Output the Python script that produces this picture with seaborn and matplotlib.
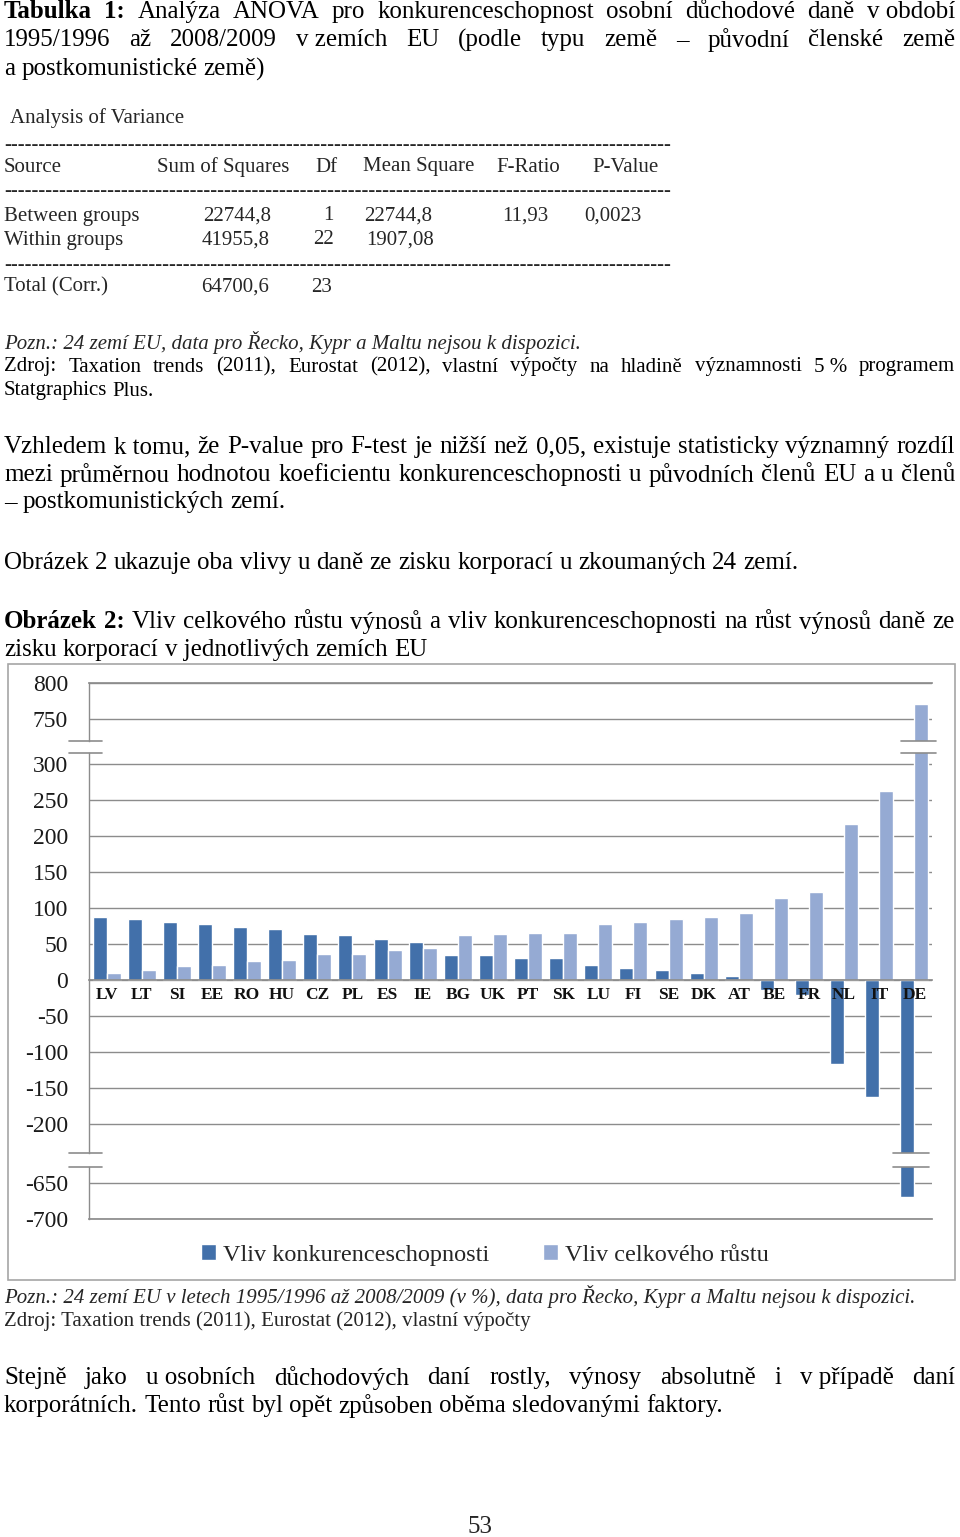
import pandas as pd
import seaborn as sns
import matplotlib.pyplot as plt
from matplotlib.patches import Rectangle
from matplotlib.transforms import blended_transform_factory

# data (percent)
countries = ['LV', 'LT', 'SI', 'EE', 'RO', 'HU', 'CZ', 'PL', 'ES', 'IE', 'BG', 'UK',
             'PT', 'SK', 'LU', 'FI', 'SE', 'DK', 'AT', 'BE', 'FR', 'NL', 'IT', 'DE']
konkurence = [87, 85, 80, 78, 73, 71, 64, 62, 57, 53, 35, 35,
              31, 31, 21, 17, 14, 10, 6, -14, -21, -116, -162, -669]
celkovy = [10, 14, 20, 21, 26, 28, 36, 36, 42, 45, 62, 64,
           65, 65, 78, 81, 85, 87, 93, 114, 122, 217, 263, 771]
series_names = ['Vliv konkurenceschopnosti', 'Vliv celkového růstu']

W, H = 960, 1537
DARK = '#4270AA'
LIGHT = '#95AAD3'
GRID = '#8C8C8C'
BODY = 18
TS = 15


def fx(x):
    return x / W


def fy(y):
    return 1 - y / H


def rect(x0, y0, x1, y1):
    return [fx(x0), fy(y1), (x1 - x0) / W, (y1 - y0) / H]


sns.set_theme(style='white')
plt.rcParams['font.family'] = ['Liberation Serif', 'DejaVu Serif']
plt.rcParams['axes.unicode_minus'] = False

fig = plt.figure(figsize=(9.6, 15.37), dpi=100)
renderer = fig.canvas.get_renderer()


def put_line(parts, y, x0=4, x1=None, size=BODY, style='normal'):
    texts = [fig.text(fx(x0), fy(y), w, fontsize=size, fontweight=wt,
                      fontstyle=style, va='center', ha='left', color='black')
             for w, wt in parts]
    widths = [t.get_window_extent(renderer).width for t in texts]
    if x1 is None or len(texts) == 1:
        gap = size * 100 / 72 * 0.25
    else:
        gap = (x1 - x0 - sum(widths)) / (len(texts) - 1)
    x = x0
    for t, w in zip(texts, widths):
        t.set_x(fx(x))
        x += w + gap


def words(s, wt='normal'):
    return [(w.replace('~', ' '), wt) for w in s.split()]


# heading and ANOVA table
put_line(words('Tabulka 1:', 'bold')
         + words('Analýza ANOVA pro konkurenceschopnost osobní důchodové daně v~období'),
         12, x1=955)
put_line(words('1995/1996 až 2008/2009 v~zemích EU (podle typu země – původní členské země'),
         40, x1=955)
put_line(words('a postkomunistické země)'), 69)

fig.text(fx(10), fy(118), 'Analysis of Variance', fontsize=TS, va='center')
for yy in [145, 192, 266]:
    fig.text(fx(4), fy(yy), '-' * 97, fontsize=TS, va='center')
header = [('Source', 4), ('Sum of Squares', 157), ('Df', 315), ('Mean Square', 363),
          ('F-Ratio', 496), ('P-Value', 592)]
for s, x in header:
    fig.text(fx(x), fy(167), s, fontsize=TS, va='center')
rows = [
    (216, [('Between groups', 4), ('22744,8', 203), ('1', 323), ('22744,8', 364),
           ('11,93', 502), ('0,0023', 584)]),
    (240, [('Within groups', 4), ('41955,8', 202), ('22', 313), ('1907,08', 366)]),
    (287, [('Total (Corr.)', 4), ('64700,6', 201), ('23', 311)]),
]
for yy, cells in rows:
    for s, x in cells:
        fig.text(fx(x), fy(yy), s, fontsize=TS, va='center')

fig.text(fx(4), fy(343), 'Pozn.: 24 zemí EU, data pro Řecko, Kypr a Maltu nejsou k dispozici.',
         fontsize=TS, fontstyle='italic', va='center')
put_line(words('Zdroj: Taxation trends (2011), Eurostat (2012), vlastní výpočty na hladině '
               'významnosti 5~% programem'), 367, x1=955, size=TS)
put_line(words('Statgraphics Plus.'), 391, size=TS)

put_line(words('Vzhledem k~tomu, že P-value pro F-test je nižší než 0,05, existuje statisticky '
               'významný rozdíl'), 447, x1=955)
put_line(words('mezi průměrnou hodnotou koeficientu konkurenceschopnosti u původních členů EU '
               'a u členů'), 475, x1=955)
put_line(words('– postkomunistických zemí.'), 502)
put_line(words('Obrázek 2 ukazuje oba vlivy u daně ze zisku korporací u zkoumaných 24 zemí.'), 563)
put_line(words('Obrázek 2:', 'bold')
         + words('Vliv celkového růstu výnosů a vliv konkurenceschopnosti na růst výnosů daně ze'),
         622, x1=955)
put_line(words('zisku korporací v~jednotlivých zemích EU'), 650)

# chart
df = pd.DataFrame({
    'stat': countries * 2,
    'hodnota': konkurence + celkovy,
    'vliv': [series_names[0]] * len(countries) + [series_names[1]] * len(countries),
})

fig.add_artist(Rectangle((fx(8), fy(1280)), (955 - 8) / W, (1280 - 664) / H,
                         transform=fig.transFigure, fill=False, edgecolor='#A6A6A6', lw=1.2))

ax_top = fig.add_axes(rect(89, 683, 932, 740.6))
ax_mid = fig.add_axes(rect(89, 753.2, 932, 1152.8))
ax_bot = fig.add_axes(rect(89, 1167.2, 932, 1219))

panels = [(ax_top, (720, 800), [750, 800]),
          (ax_mid, (-240, 315), list(range(-200, 301, 50))),
          (ax_bot, (-700, -628), [-700, -650])]

for ax, lim, ticks in panels:
    sns.barplot(data=df, x='stat', y='hodnota', hue='vliv', hue_order=series_names,
                palette=[DARK, LIGHT], saturation=1, width=0.8, ax=ax,
                legend=(ax is ax_mid))
    ax.set_xlim(-0.5, len(countries) - 0.5)
    ax.set_ylim(*lim)
    ax.set_yticks(ticks)
    ax.set_xlabel('')
    ax.set_ylabel('')
    ax.set_facecolor('none')
    ax.grid(axis='y', color=GRID, lw=1)
    ax.set_axisbelow(True)
    for sp in ax.spines.values():
        sp.set_visible(False)
    ax.spines['left'].set_visible(True)
    ax.spines['left'].set_color(GRID)
    ax.spines['left'].set_linewidth(1)
    ax.tick_params(axis='y', length=0, pad=15, labelsize=17, labelcolor='#1a1a1a')

for ax in (ax_top, ax_bot):
    ax.set_xticks([])

ax_top.spines['top'].set_visible(True)
ax_top.spines['top'].set_color(GRID)
ax_bot.spines['bottom'].set_visible(True)
ax_bot.spines['bottom'].set_color(GRID)

ax_mid.spines['bottom'].set_visible(True)
ax_mid.spines['bottom'].set_position(('data', 0))
ax_mid.spines['bottom'].set_color(GRID)
ax_mid.tick_params(axis='x', length=0, pad=5, labelsize=12.5, labelcolor='#111111')
for lbl in ax_mid.get_xticklabels():
    lbl.set_fontweight('bold')
ax_mid.xaxis.set_zorder(3)

# axis break marks
brk = dict(color=GRID, lw=1.2, clip_on=False)
ax_top.plot([-0.024, 0.015], [0, 0], transform=ax_top.transAxes, **brk)
ax_mid.plot([-0.024, 0.015], [1, 1], transform=ax_mid.transAxes, **brk)
ax_mid.plot([-0.024, 0.015], [0, 0], transform=ax_mid.transAxes, **brk)
ax_bot.plot([-0.024, 0.015], [1, 1], transform=ax_bot.transAxes, **brk)
tr_top = blended_transform_factory(ax_top.transData, ax_top.transAxes)
tr_mid = blended_transform_factory(ax_mid.transData, ax_mid.transAxes)
tr_bot = blended_transform_factory(ax_bot.transData, ax_bot.transAxes)
ax_top.plot([22.63, 23.61], [0, 0], transform=tr_top, **brk)
ax_mid.plot([22.63, 23.61], [1, 1], transform=tr_mid, **brk)
ax_mid.plot([22.39, 23.42], [0, 0], transform=tr_mid, **brk)
ax_bot.plot([22.39, 23.42], [1, 1], transform=tr_bot, **brk)

handles, labels = ax_mid.get_legend_handles_labels()
ax_mid.get_legend().remove()
fig.legend(handles, labels, loc='center', bbox_to_anchor=(fx(485), fy(1255)), ncol=2,
           frameon=False, fontsize=17.5, handlelength=0.6, handleheight=0.6,
           handletextpad=0.3, columnspacing=2.2)

# notes below the chart
fig.text(fx(4), fy(1297), 'Pozn.: 24 zemí EU v letech 1995/1996 až 2008/2009 (v %), data pro '
         'Řecko, Kypr a Maltu nejsou k dispozici.', fontsize=TS, fontstyle='italic', va='center')
fig.text(fx(4), fy(1321), 'Zdroj: Taxation trends (2011), Eurostat (2012), vlastní výpočty',
         fontsize=TS, va='center')
put_line(words('Stejně jako u~osobních důchodových daní rostly, výnosy absolutně i v~případě daní'),
         1378, x1=955)
put_line(words('korporátních. Tento růst byl opět způsoben oběma sledovanými faktory.'), 1406)
fig.text(0.5, fy(1527), '53', fontsize=BODY, ha='center', va='center')

fig.savefig('out.png', dpi=100)
